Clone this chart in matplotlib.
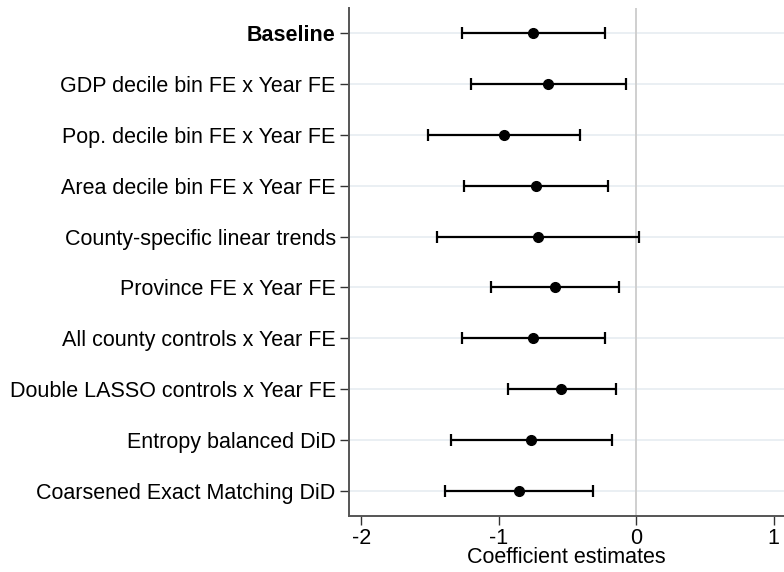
import matplotlib
matplotlib.use("Agg")
import matplotlib.pyplot as plt
import numpy as np

plt.rcParams["font.family"] = ["Liberation Sans", "DejaVu Sans"]

# Specifications, top to bottom
labels = [
    "Baseline",
    "GDP decile bin FE x Year FE",
    "Pop. decile bin FE x Year FE",
    "Area decile bin FE x Year FE",
    "County-specific linear trends",
    "Province FE x Year FE",
    "All county controls x Year FE",
    "Double LASSO controls x Year FE",
    "Entropy balanced DiD",
    "Coarsened Exact Matching DiD",
]

# Point estimates and 95% CI bounds
coef = np.array([-0.750, -0.641, -0.964, -0.725, -0.714,
                 -0.592, -0.750, -0.543, -0.762, -0.852])
ci_lo = np.array([-1.267, -1.202, -1.515, -1.250, -1.447,
                  -1.058, -1.267, -0.932, -1.345, -1.388])
ci_hi = np.array([-0.228, -0.077, -0.408, -0.206, 0.020,
                  -0.128, -0.230, -0.150, -0.177, -0.315])

xticks = [-2, -1, 0, 1]

fig = plt.figure(figsize=(7.84, 5.72), dpi=100)
ax = fig.add_axes([0.445, 0.098, 0.555, 0.888])

y = np.arange(len(labels))

# light horizontal guides at each row
for yy in y:
    ax.axhline(yy, color="#e8eef2", lw=1.3, zorder=0)

# reference line at zero
ax.axvline(0, color="#cfcfcf", lw=1.4, zorder=1)

ax.errorbar(coef, y, xerr=[coef - ci_lo, ci_hi - coef], fmt="o",
            color="black", ecolor="black", elinewidth=1.6, capsize=4.2,
            capthick=1.6, markersize=7, zorder=3)

ax.set_ylim(len(labels) - 0.5, -0.5)
ax.set_xlim(-2.09, 1.076)

ax.set_yticks(y)
ax.set_yticklabels(labels, fontsize=15.5)
ax.get_yticklabels()[0].set_fontweight("bold")

ax.set_xticks(xticks)
ax.set_xticklabels([str(t) for t in xticks], fontsize=15.5)
ax.set_xlabel("Coefficient estimates", fontsize=15.5, labelpad=-1)

for side in ["top", "right"]:
    ax.spines[side].set_visible(False)
for side in ["left", "bottom"]:
    ax.spines[side].set_color("#555555")
    ax.spines[side].set_linewidth(1.4)

ax.tick_params(axis="y", length=6.5, width=1.0, pad=3, color="#333333")
ax.tick_params(axis="x", length=6.5, width=1.0, pad=2, color="#333333")

fig.savefig("out.png", dpi=100)
